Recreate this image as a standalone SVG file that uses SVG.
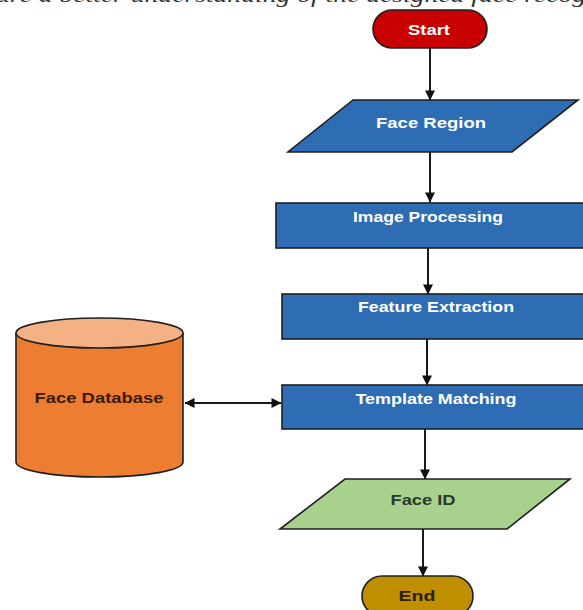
<svg xmlns="http://www.w3.org/2000/svg" width="583" height="610" viewBox="0 0 583 610">
<defs>
<style>
.lbl{font-family:"Liberation Sans",Arial,sans-serif;font-weight:bold;font-size:14px;text-anchor:middle}
.w{fill:#ffffff}
.node{stroke:#1f1f1f;stroke-width:1.6}
.con{stroke:#1a1a1a;stroke-width:2;fill:none}
</style>
<marker id="ah" viewBox="0 0 10 10" refX="9.5" refY="5" markerWidth="11" markerHeight="10" orient="auto-start-reverse" markerUnits="userSpaceOnUse">
<path d="M0,0 L10,5 L0,10 z" fill="#111"/>
</marker>
</defs>
<rect width="583" height="610" fill="#ffffff"/>
<text x="-4" y="2" font-family="Liberation Serif,serif" font-style="italic" font-size="22" fill="#333" textLength="590" lengthAdjust="spacingAndGlyphs">ure a better understanding of the designed face recog</text>

<g id="connectors">
<line class="con" x1="430" y1="48" x2="430" y2="100" marker-end="url(#ah)"/>
<line class="con" x1="430" y1="152" x2="430" y2="202" marker-end="url(#ah)"/>
<line class="con" x1="428" y1="248" x2="428" y2="294" marker-end="url(#ah)"/>
<line class="con" x1="427" y1="339" x2="427" y2="385" marker-end="url(#ah)"/>
<line class="con" x1="425" y1="429" x2="425" y2="479" marker-end="url(#ah)"/>
<line class="con" x1="423" y1="529" x2="423" y2="576" marker-end="url(#ah)"/>
<line class="con" x1="185" y1="403" x2="281" y2="403" marker-start="url(#ah)" marker-end="url(#ah)"/>
</g>

<g id="start">
<rect class="node" x="373" y="10" width="114" height="38" rx="19" fill="#c80000"/>
<text class="lbl w" x="429" y="35" textLength="42" lengthAdjust="spacingAndGlyphs">Start</text>
</g>

<g id="face-region">
<polygon class="node" points="353,100 578,100 512,152 288,152" fill="#2e6db4"/>
<text class="lbl w" x="431" y="128" textLength="110" lengthAdjust="spacingAndGlyphs">Face Region</text>
</g>

<g id="image-processing">
<rect class="node" x="276" y="203" width="320" height="45" fill="#2e6db4"/>
<text class="lbl w" x="428" y="222" textLength="150" lengthAdjust="spacingAndGlyphs">Image Processing</text>
</g>

<g id="feature-extraction">
<rect class="node" x="282" y="294" width="320" height="45" fill="#2e6db4"/>
<text class="lbl w" x="436" y="312" textLength="156" lengthAdjust="spacingAndGlyphs">Feature Extraction</text>
</g>

<g id="template-matching">
<rect class="node" x="282" y="385" width="320" height="44" fill="#2e6db4"/>
<text class="lbl w" x="436" y="404" textLength="161" lengthAdjust="spacingAndGlyphs">Template Matching</text>
</g>

<g id="face-id">
<polygon class="node" points="345,479 570,479 507,529 280,529" fill="#a9d18e"/>
<text class="lbl" x="423" y="505" fill="#2a3a2a" textLength="65" lengthAdjust="spacingAndGlyphs">Face ID</text>
</g>

<g id="end">
<rect class="node" x="362" y="576" width="111" height="40" rx="20" fill="#bf8f00"/>
<text class="lbl" x="417" y="601" fill="#2a2000" textLength="37" lengthAdjust="spacingAndGlyphs">End</text>
</g>

<g id="face-database">
<path class="node" d="M16,333 L16,462 A83.5,15 0 0 0 183,462 L183,333" fill="#ed7d31"/>
<ellipse class="node" cx="99.5" cy="333" rx="83.5" ry="15" fill="#f4b183"/>
<text class="lbl" x="99" y="403" fill="#3a1a05" textLength="129" lengthAdjust="spacingAndGlyphs">Face Database</text>
</g>
</svg>
